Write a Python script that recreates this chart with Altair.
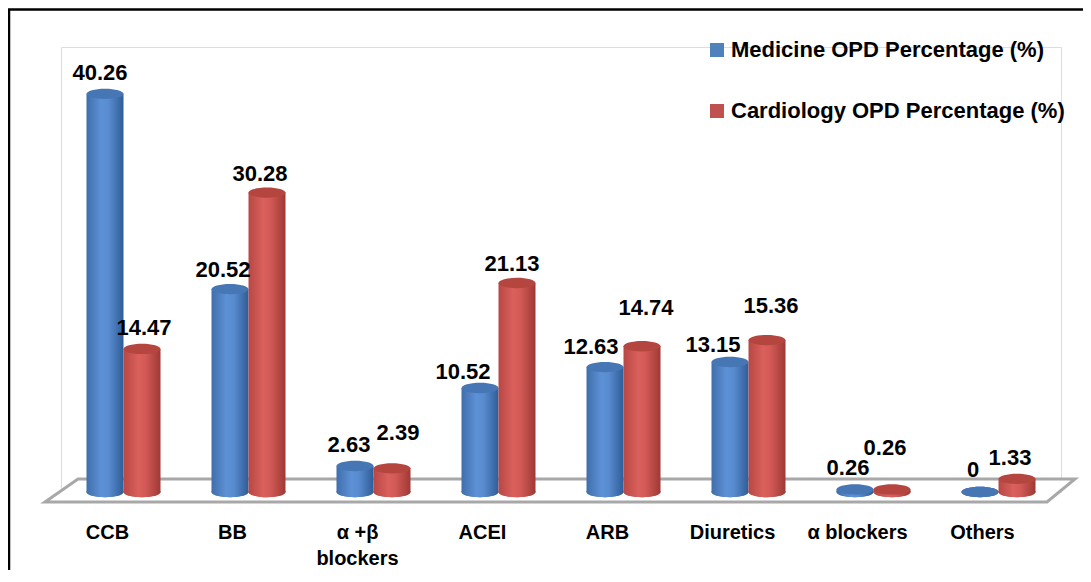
import altair as alt
import pandas as pd

# ---------------- data ----------------
categories = ["CCB", "BB", "α +β blockers", "ACEI", "ARB", "Diuretics", "α blockers", "Others"]
medicine = [40.26, 20.52, 2.63, 10.52, 12.63, 13.15, 0.26, 0]
cardiology = [14.47, 30.28, 2.39, 21.13, 14.74, 15.36, 0.26, 1.33]
series_names = ["Medicine OPD Percentage (%)", "Cardiology OPD Percentage (%)"]
value_text = [["40.26", "20.52", "2.63", "10.52", "12.63", "13.15", "0.26", "0"],
              ["14.47", "30.28", "2.39", "21.13", "14.74", "15.36", "0.26", "1.33"]]

# ---------------- layout / style ----------------
FONT = "Liberation Sans, Arial, sans-serif"
W, H = 1000, 445
PAD = {"left": 53, "top": 39, "right": 22, "bottom": 78}
# per-label nudges (px) [medicine, cardiology] per category
LABEL_DX = [[-5, 2], [-7, -7], [-6, 6], [-17, -5], [-14, 4], [-17, 4], [-7, -7], [-7, -7]]
LABEL_DY = [[-14, -14], [-12, -12], [-14, -28], [-9, -12], [-13, -31], [-10, -27], [-14, -34], [-15, -14]]

legend_colors = ["#4F81BD", "#C0504D"]
body_grad = [
    alt.Gradient(gradient="linear", x1=0, x2=1, y1=0, y2=0,
                 stops=[alt.GradientStop(offset=0, color="#3f6eab"),
                        alt.GradientStop(offset=0.4, color="#5d91d6"),
                        alt.GradientStop(offset=0.6, color="#588bcf"),
                        alt.GradientStop(offset=1, color="#305d98")]),
    alt.Gradient(gradient="linear", x1=0, x2=1, y1=0, y2=0,
                 stops=[alt.GradientStop(offset=0, color="#b84744"),
                        alt.GradientStop(offset=0.4, color="#da605c"),
                        alt.GradientStop(offset=0.6, color="#d25955"),
                        alt.GradientStop(offset=1, color="#9e3936")]),
]
cap_colors = ["#4676b3", "#b5453f"]

k = 0.28
c = round(0.5523 * k, 4)
ELLIPSE = (f"M-1,0 C-1,-{c} -0.5523,-{k} 0,-{k} C0.5523,-{k} 1,-{c} 1,0 "
           f"C1,{c} 0.5523,{k} 0,{k} C-0.5523,{k} -1,{c} -1,0 Z")
ELL_SIZE = 37 * 37

rows = []
for si, (sname, vals) in enumerate(zip(series_names, [medicine, cardiology])):
    for ci, cat in enumerate(categories):
        rows.append({"category": cat, "series": sname, "value": vals[ci],
                     "text": value_text[si][ci], "ci": ci, "si": si})
df = pd.DataFrame(rows)

xenc = alt.X("category:N", sort=categories,
             scale=alt.Scale(domain=categories, paddingInner=0.408, paddingOuter=0.204),
             axis=alt.Axis(title=None, domain=False, ticks=False, tickSize=0, grid=False,
                           labelAngle=0, labelFont=FONT, labelFontSize=20,
                           labelFontWeight="bold", labelColor="black",
                           labelPadding=30, labelOffset=-16, labelLineHeight=26,
                           labelExpr="datum.label == 'α +β blockers' ? ['α +β', 'blockers'] : datum.label"))
xoff = alt.XOffset("series:N", sort=series_names,
                   scale=alt.Scale(domain=series_names, paddingInner=0, paddingOuter=0))
yenc = alt.Y("value:Q", scale=alt.Scale(domain=[0, 45], nice=False), axis=None)
yzero = alt.Y("zero:Q", scale=alt.Scale(domain=[0, 45], nice=False), axis=None)

base = alt.Chart(df)
one = alt.Data(values=[{"d": 1}])

# chart frame: left and top edges (right/bottom lie outside the picture)
border = alt.Chart(one).mark_point(
    shape="M-52,600 L-52,-37.5 L1100,-37.5", size=4,
    filled=False, stroke="black", strokeWidth=2.5, opacity=1
).encode(x=alt.value(0), y=alt.value(0))

floor = alt.Chart(one).mark_point(
    shape="M-16,455 L17,432 L1014,432 L986,455 Z", size=4,
    filled=True, fill="white", stroke="#a8a8a8", strokeWidth=3, opacity=1
).encode(x=alt.value(0), y=alt.value(0))

layers = [border, floor]
for si, sname in enumerate(series_names):
    sb = base.transform_filter(alt.datum.series == sname)
    bottom = sb.mark_point(shape=ELLIPSE, size=ELL_SIZE, filled=True, opacity=1, strokeWidth=0).encode(
        x=xenc, xOffset=xoff, y=yzero,
        color=alt.Color("series:N", sort=series_names,
                        scale=alt.Scale(domain=series_names, range=legend_colors),
                        legend=alt.Legend(title=None, orient="none", legendX=645, legendY=-8,
                                          symbolType="square", symbolSize=196, symbolStrokeWidth=0,
                                          labelFont=FONT, labelFontSize=22, labelFontWeight="bold",
                                          labelColor="black", labelOffset=3, rowPadding=39,
                                          padding=0, labelLimit=0))
    ).transform_calculate(zero="0")
    bottom_cover = sb.mark_point(shape=ELLIPSE, size=ELL_SIZE, filled=True, opacity=1, strokeWidth=0,
                                 fill=body_grad[si]).encode(
        x=xenc, xOffset=xoff, y=yzero
    ).transform_calculate(zero="0")
    body = sb.mark_bar(fill=body_grad[si], strokeWidth=0).encode(x=xenc, xOffset=xoff, y=yenc)
    cap = sb.mark_point(shape=ELLIPSE, size=ELL_SIZE, filled=True, opacity=1, strokeWidth=0,
                        fill=cap_colors[si]).encode(x=xenc, xOffset=xoff, y=yenc)
    layers += [bottom, bottom_cover, body, cap]

for ci, cat in enumerate(categories):
    for si, sname in enumerate(series_names):
        t = base.transform_filter(
            (alt.datum.category == cat) & (alt.datum.series == sname)
        ).mark_text(font=FONT, fontSize=22, fontWeight="bold", color="black",
                    align="center", baseline="alphabetic",
                    dx=LABEL_DX[ci][si], dy=LABEL_DY[ci][si]).encode(
            x=xenc, xOffset=xoff, y=yenc, text="text:N")
        layers.append(t)

chart = alt.layer(*layers).properties(
    width=W, height=H, autosize=alt.AutoSizeParams(type="none"), padding=PAD
).configure_view(strokeWidth=0).configure(background="white")

chart.save("out.html", embed_options={"renderer": "svg", "actions": False})
